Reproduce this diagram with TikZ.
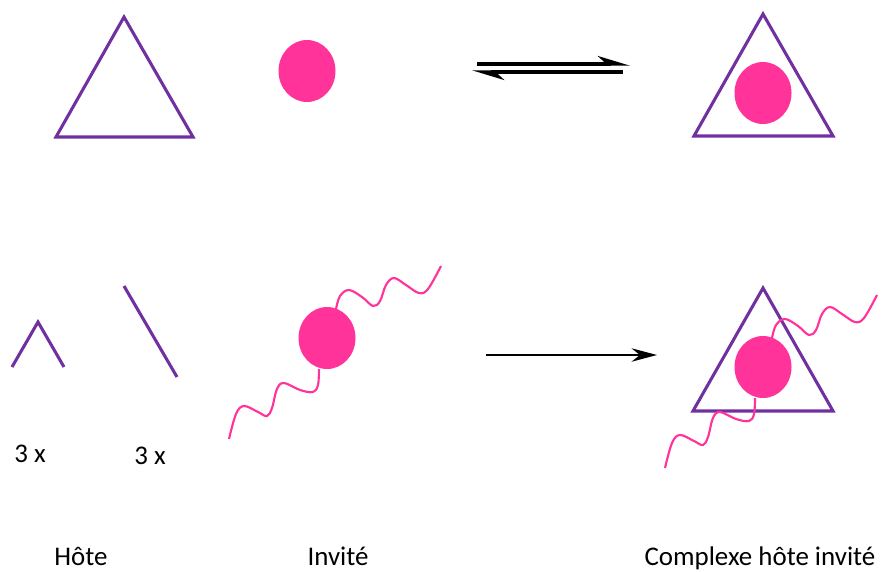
\documentclass[tikz,border=0pt]{standalone}
\usepackage{fontspec}
\setmainfont{Carlito}
\usetikzlibrary{arrows.meta,shapes.geometric}
\definecolor{hostpurple}{HTML}{7030A0}
\definecolor{guestpink}{HTML}{FF3399}
\begin{document}
\begin{tikzpicture}[x=0.75pt,y=-0.75pt,
  host/.style={draw=hostpurple,line width=2.3pt,line join=miter},
  guestball/.style={ellipse,fill=guestpink,minimum width=42.75pt,minimum height=46.5pt,inner sep=0pt},
  tail/.style={draw=guestpink,line width=1.6pt},
  lbl/.style={font=\fontsize{20.2}{24}\selectfont,anchor=base,inner sep=0pt},
  eqarrow/.style={line width=2.5pt,-{Stealth[harpoon,length=20pt,width=12pt]}},
  mainarrow/.style={line width=1.9pt,-{Stealth[length=19pt,width=10pt]}},
  guestpic/.pic={
    \draw[tail] plot[smooth,tension=0.6] coordinates {(9,-29) (13,-42) (22,-48) (35,-41) (46,-32) (53,-37) (59,-53) (67,-60) (79,-53) (92,-45) (101,-49) (114,-72)};
    \draw[tail] plot[smooth,tension=0.6] coordinates {(-8,31) (-9,47) (-14,54) (-27,52) (-43,45) (-50,51) (-55,70) (-60,78) (-69,74) (-83,68) (-91,76) (-98,101)};
    \node[guestball] (-ball) at (0,0) {};
  }]
\useasboundingbox (0,0) rectangle (884,571);

% top row
\draw[host] (124,17) -- (56,137) -- (193,137) -- cycle;
\node[guestball] (g1) at (307,71) {};

\coordinate (e1s) at (477,64);
\coordinate (e1e) at (630,64);
\coordinate (e2s) at (623,72);
\coordinate (e2e) at (472,72);
\draw[eqarrow] (e1s) -- (e1e);
\draw[eqarrow] (e2s) -- (e2e);

\draw[host] (763,14) -- (694,136) -- (833,136) -- cycle;
\node[guestball] (g2) at (763,93) {};

% bottom row
\draw[host] (12,367) -- (38,322) -- (64,367);
\draw[host] (124,286) -- (177,377);
\node[lbl,anchor=base west] (n3a) at (14,462) {3 x};
\node[lbl,anchor=base west] (n3b) at (134,464) {3 x};

\pic (g3) at (327,338) {guestpic};

\coordinate (a1s) at (486,355);
\coordinate (a1e) at (657,355);
\draw[mainarrow] (a1s) -- (a1e);

\draw[host] (763,288) -- (693,411) -- (833,411) -- cycle;
\pic (g4) at (763,367) {guestpic};

% labels
\node[lbl] (hote) at (81,565) {Hôte};
\node[lbl] (inv) at (338,565) {Invité};
\node[lbl] (cplx) at (760,565) {Complexe hôte invité};
\end{tikzpicture}
\end{document}
